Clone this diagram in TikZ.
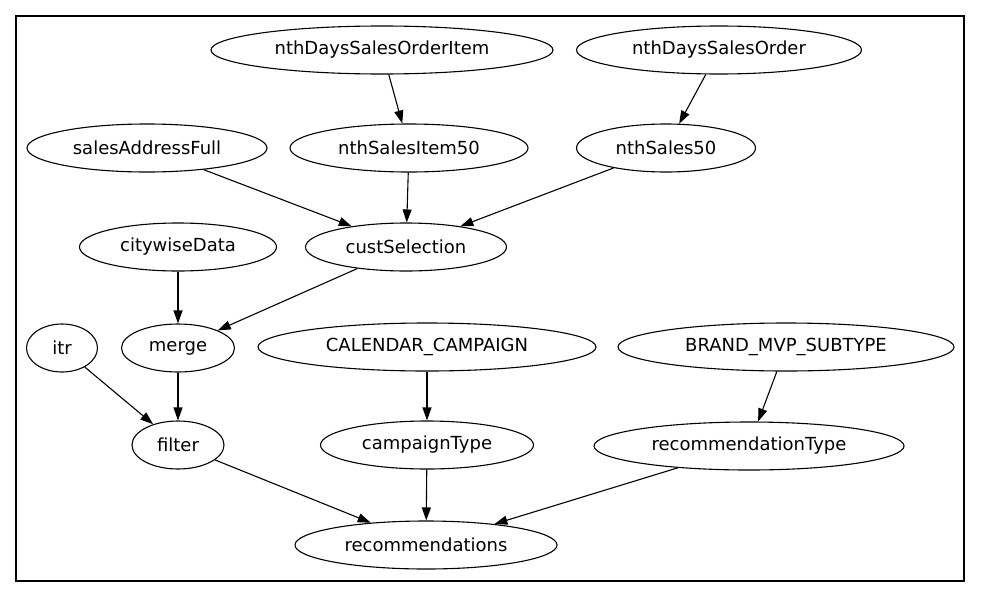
\documentclass[tikz,border=0pt]{standalone}
\usepackage{fontspec}
\setmainfont{DejaVu Sans}
\usepackage{tikz}
\usetikzlibrary{arrows.meta,shapes.geometric}
\tikzset{
  jobnode/.style={
    ellipse,
    draw=black,
    line width=1.1pt,
    inner sep=0pt,
    minimum height=48pt,
    font=\fontsize{18}{22}\selectfont
  },
  flow/.style={
    -{Triangle[length=13pt,width=9pt]},
    line width=1.1pt,
    draw=black
  }
}

\begin{document}
\begin{tikzpicture}[x=1pt,y=-1pt]
\useasboundingbox (0,0) rectangle (981,597);
\draw[line width=1.1pt] (16,16) rectangle (964,581);
% first row
\node[jobnode, minimum width=342pt] (dsoi) at (382,50) {nthDaysSalesOrderItem};
\node[jobnode, minimum width=285pt] (dso) at (719,50) {nthDaysSalesOrder};
% second row
\node[jobnode, minimum width=240pt] (addr) at (147,148) {salesAddressFull};
\node[jobnode, minimum width=238pt] (item50) at (409,148) {nthSalesItem50};
\node[jobnode, minimum width=179pt] (sales50) at (666,148) {nthSales50};
% third row
\node[jobnode, minimum width=197pt] (city) at (178,247) {citywiseData};
\node[jobnode, minimum width=201pt] (cust) at (406,247) {custSelection};
% fourth row
\node[jobnode, minimum width=71pt] (itr) at (62,348) {itr};
\node[jobnode, minimum width=113pt] (merge) at (178,348) {merge};
\node[jobnode, minimum width=338pt] (cal) at (427,347) {CALENDAR\_CAMPAIGN};
\node[jobnode, minimum width=336pt] (brand) at (786,347) {BRAND\_MVP\_SUBTYPE};
% fifth row
\node[jobnode, minimum width=92pt] (filter) at (178,445) {filter};
\node[jobnode, minimum width=213pt] (ctype) at (427,445) {campaignType};
\node[jobnode, minimum width=310pt] (rtype) at (749,446) {recommendationType};
% last row
\node[jobnode, minimum width=262pt] (rec) at (426,545) {recommendations};

\foreach \a/\b in {dsoi/item50,dso/sales50,addr/cust,item50/cust,sales50/cust,
  city/merge,cust/merge,itr/filter,merge/filter,cal/ctype,brand/rtype,
  filter/rec,ctype/rec,rtype/rec} {
  \draw[flow] (\a) -- (\b);
}
\end{tikzpicture}
\end{document}
